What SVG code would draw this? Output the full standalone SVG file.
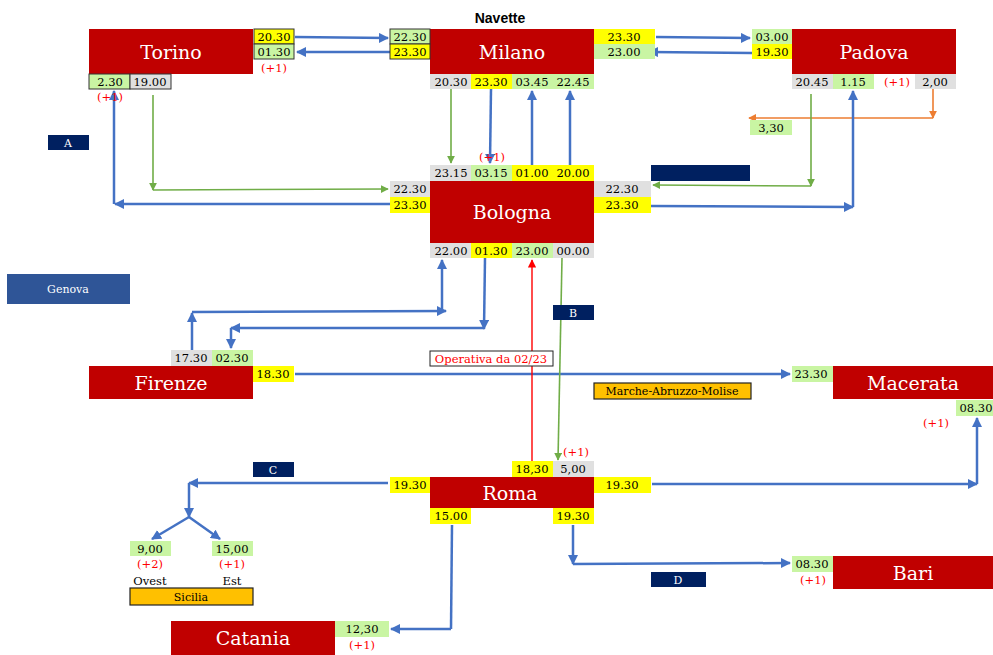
<svg xmlns="http://www.w3.org/2000/svg" width="993" height="655" viewBox="0 0 993 655">
  <defs>
    <marker id="ab" viewBox="0 0 10 10" refX="9" refY="5" markerWidth="4" markerHeight="4" orient="auto-start-reverse" markerUnits="strokeWidth">
      <path d="M0,0 L10,5 L0,10 z" fill="#4472C4"/>
    </marker>
    <marker id="ag" viewBox="0 0 10 10" refX="9" refY="5" markerWidth="5" markerHeight="5" orient="auto" markerUnits="strokeWidth">
      <path d="M0,0 L10,5 L0,10 z" fill="#70AD47"/>
    </marker>
    <marker id="ao" viewBox="0 0 10 10" refX="9" refY="5" markerWidth="5" markerHeight="5" orient="auto" markerUnits="strokeWidth">
      <path d="M0,0 L10,5 L0,10 z" fill="#ED7D31"/>
    </marker>
    <marker id="ar" viewBox="0 0 10 10" refX="9" refY="5" markerWidth="6" markerHeight="6" orient="auto" markerUnits="strokeWidth">
      <path d="M0,0 L10,5 L0,10 z" fill="#FF0000"/>
    </marker>
  </defs>
  <style>
    .st { fill: #C00000; }
    .name { font-family: "DejaVu Serif", "Liberation Serif", serif; font-size: 19px; fill: #ffffff; text-anchor: middle; }
    .t { font-family: "DejaVu Serif", "Liberation Serif", serif; font-size: 11.5px; fill: #000000; text-anchor: middle; }
    .p { font-family: "DejaVu Serif", "Liberation Serif", serif; font-size: 11.5px; fill: #FF0000; text-anchor: middle; }
    .y { fill: #FFFF00; }
    .g { fill: #C9F5A3; }
    .k { fill: #E0E0E0; }
    .bd { stroke: #333333; stroke-width: 1; }
    .nv { fill: #002060; }
    .nl { font-family: "DejaVu Serif", "Liberation Serif", serif; font-size: 11px; fill: #ffffff; text-anchor: middle; }
    .or { fill: #FFC000; stroke: #222222; stroke-width: 1.2; }
    .ol { font-family: "DejaVu Serif", "Liberation Serif", serif; font-size: 11px; fill: #000000; text-anchor: middle; }
    .bl { fill: none; stroke: #4472C4; stroke-width: 2.5; }
    .gl { fill: none; stroke: #70AD47; stroke-width: 1.6; }
    .orl { fill: none; stroke: #ED7D31; stroke-width: 1.6; }
    .rl { fill: none; stroke: #FF0000; stroke-width: 1.4; }
  </style>
  <rect width="993" height="655" fill="#ffffff"/>

  <text x="500" y="23" font-family="Liberation Sans, Arial, sans-serif" font-size="14" font-weight="bold" text-anchor="middle">Navette</text>

  <!-- connectors -->
  <g id="connectors">
    <!-- Torino <-> Milano -->
    <line class="bl" x1="295" y1="37" x2="388" y2="38" marker-end="url(#ab)"/>
    <line class="bl" x1="430" y1="52" x2="297" y2="52" marker-end="url(#ab)"/>
    <!-- Milano <-> Padova -->
    <line class="bl" x1="656" y1="37" x2="750" y2="38" marker-end="url(#ab)"/>
    <line class="bl" x1="752" y1="53" x2="649" y2="52" marker-end="url(#ab)"/>
    <!-- Padova 2.00 -> 3,30 -->
    <polyline class="orl" points="933,89 933,118" marker-end="url(#ao)"/>
    <line class="orl" x1="933" y1="118" x2="749" y2="118" marker-end="url(#ao)"/>
    <!-- Padova 20.45 -> Bologna -->
    <line class="gl" x1="811" y1="94" x2="811" y2="186" marker-end="url(#ag)"/>
    <line class="gl" x1="811" y1="186" x2="653" y2="185" marker-end="url(#ag)"/>
    <!-- Bologna -> Padova 1.15 -->
    <line class="bl" x1="651" y1="206" x2="853" y2="207" marker-end="url(#ab)"/>
    <line class="bl" x1="853" y1="207" x2="853" y2="91" marker-end="url(#ab)"/>
    <!-- Milano <-> Bologna -->
    <line class="gl" x1="451" y1="89" x2="451" y2="163" marker-end="url(#ag)"/>
    <line class="bl" x1="491" y1="89" x2="490" y2="163" marker-end="url(#ab)"/>
    <line class="bl" x1="532" y1="165" x2="532" y2="91" marker-end="url(#ab)"/>
    <line class="bl" x1="570" y1="165" x2="570" y2="91" marker-end="url(#ab)"/>
    <!-- Torino 19.00 -> Bologna -->
    <line class="gl" x1="153" y1="95" x2="153" y2="190" marker-end="url(#ag)"/>
    <line class="gl" x1="153" y1="190" x2="388" y2="189" marker-end="url(#ag)"/>
    <!-- Bologna -> Torino 2.30 -->
    <line class="bl" x1="390" y1="204" x2="115" y2="204" marker-end="url(#ab)"/>
    <line class="bl" x1="114" y1="204" x2="114" y2="91" marker-end="url(#ab)"/>
    <!-- Firenze 17.30 -> Bologna 22.00 -->
    <line class="bl" x1="192" y1="350" x2="192" y2="313" marker-end="url(#ab)"/>
    <line class="bl" x1="192" y1="312" x2="446" y2="311" marker-end="url(#ab)"/>
    <line class="bl" x1="442" y1="312" x2="442" y2="260" marker-end="url(#ab)"/>
    <!-- Bologna 01.30 -> Firenze 02.30 -->
    <line class="bl" x1="485" y1="258" x2="484" y2="329" marker-end="url(#ab)"/>
    <line class="bl" x1="484" y1="328" x2="231" y2="328" marker-end="url(#ab)"/>
    <line class="bl" x1="231" y1="328" x2="231" y2="348" marker-end="url(#ab)"/>
    <!-- Firenze -> Macerata -->
    <line class="bl" x1="295" y1="374" x2="790" y2="374" marker-end="url(#ab)"/>
    <!-- Roma <-> Bologna -->
    <line class="rl" x1="532" y1="461" x2="532" y2="260" marker-end="url(#ar)"/>
    <line class="gl" x1="562" y1="258" x2="558" y2="460" marker-end="url(#ag)"/>
    <!-- Roma -> Macerata -->
    <line class="bl" x1="652" y1="484" x2="977" y2="484" marker-end="url(#ab)"/>
    <line class="bl" x1="977" y1="484" x2="977" y2="418" marker-end="url(#ab)"/>
    <!-- Roma -> Sicilia -->
    <line class="bl" x1="388" y1="483" x2="189" y2="483" marker-end="url(#ab)"/>
    <line class="bl" x1="189" y1="483" x2="189" y2="517" marker-end="url(#ab)"/>
    <line class="bl" x1="189" y1="517" x2="152" y2="539" marker-end="url(#ab)"/>
    <line class="bl" x1="189" y1="517" x2="220" y2="539" marker-end="url(#ab)"/>
    <!-- Roma -> Catania -->
    <polyline class="bl" points="452,525 451,629"/>
    <line class="bl" x1="451" y1="629" x2="391" y2="629" marker-end="url(#ab)"/>
    <!-- Roma -> Bari -->
    <line class="bl" x1="573" y1="525" x2="573" y2="564" marker-end="url(#ab)"/>
    <line class="bl" x1="573" y1="564" x2="790" y2="563" marker-end="url(#ab)"/>
  </g>

  <!-- Torino -->
  <g id="torino">
    <rect class="st" x="89" y="29" width="164" height="45"/>
    <text class="name" x="171" y="59">Torino</text>
    <rect class="y bd" x="254" y="29" width="40" height="15"/>
    <text class="t" x="274" y="41">20.30</text>
    <rect class="g bd" x="254" y="44" width="40" height="15"/>
    <text class="t" x="274" y="56">01.30</text>
    <text class="p" x="274" y="72">(+1)</text>
    <rect class="g bd" x="89" y="74" width="41" height="15"/>
    <text class="t" x="110" y="86">2.30</text>
    <rect class="k bd" x="130" y="74" width="41" height="15"/>
    <text class="t" x="150" y="86">19.00</text>
    <text class="p" x="110" y="101">(+1)</text>
  </g>

  <!-- Milano -->
  <g id="milano">
    <rect class="st" x="430" y="29" width="164" height="45"/>
    <text class="name" x="512" y="59">Milano</text>
    <rect class="g bd" x="390" y="29" width="40" height="15"/>
    <text class="t" x="410" y="41">22.30</text>
    <rect class="y bd" x="390" y="44" width="40" height="15"/>
    <text class="t" x="410" y="56">23.30</text>
    <rect class="y" x="594" y="29" width="61" height="15"/>
    <text class="t" x="624" y="41">23.30</text>
    <rect class="g" x="594" y="44" width="61" height="15"/>
    <text class="t" x="624" y="56">23.00</text>
    <rect class="k" x="430" y="74" width="41" height="15"/>
    <text class="t" x="451" y="86">20.30</text>
    <rect class="y" x="471" y="74" width="41" height="15"/>
    <text class="t" x="491" y="86">23.30</text>
    <rect class="g" x="512" y="74" width="82" height="15"/>
    <text class="t" x="532" y="86">03.45</text>
    <text class="t" x="573" y="86">22.45</text>
  </g>

  <!-- Padova -->
  <g id="padova">
    <rect class="st" x="792" y="29" width="164" height="45"/>
    <text class="name" x="874" y="59">Padova</text>
    <rect class="g" x="752" y="29" width="40" height="15"/>
    <text class="t" x="772" y="41">03.00</text>
    <rect class="y" x="752" y="44" width="40" height="15"/>
    <text class="t" x="772" y="56">19.30</text>
    <rect class="k" x="792" y="74" width="41" height="15"/>
    <text class="t" x="812" y="86">20.45</text>
    <rect class="g" x="833" y="74" width="41" height="15"/>
    <text class="t" x="853" y="86">1.15</text>
    <text class="p" x="897" y="86">(+1)</text>
    <rect class="k" x="915" y="74" width="41" height="15"/>
    <text class="t" x="935" y="86">2,00</text>
    <rect class="g" x="750" y="120" width="42" height="15"/>
    <text class="t" x="771" y="132">3,30</text>
  </g>

  <!-- Bologna -->
  <g id="bologna">
    <rect class="st" x="430" y="181" width="164" height="62"/>
    <text class="name" x="512" y="219">Bologna</text>
    <text class="p" x="492" y="161">(+1)</text>
    <rect class="k" x="430" y="165" width="41" height="16"/>
    <text class="t" x="451" y="177">23.15</text>
    <rect class="g" x="471" y="165" width="41" height="16"/>
    <text class="t" x="491" y="177">03.15</text>
    <rect class="y" x="512" y="165" width="82" height="16"/>
    <text class="t" x="532" y="177">01.00</text>
    <text class="t" x="573" y="177">20.00</text>
    <rect class="k" x="390" y="181" width="40" height="16"/>
    <text class="t" x="410" y="193">22.30</text>
    <rect class="y" x="390" y="197" width="40" height="16"/>
    <text class="t" x="410" y="209">23.30</text>
    <rect class="k" x="594" y="181" width="57" height="16"/>
    <text class="t" x="622" y="193">22.30</text>
    <rect class="y" x="594" y="197" width="57" height="16"/>
    <text class="t" x="622" y="209">23.30</text>
    <rect class="k" x="430" y="243" width="41" height="15"/>
    <text class="t" x="451" y="255">22.00</text>
    <rect class="y" x="471" y="243" width="41" height="15"/>
    <text class="t" x="491" y="255">01.30</text>
    <rect class="g" x="512" y="243" width="41" height="15"/>
    <text class="t" x="532" y="255">23.00</text>
    <rect class="k" x="553" y="243" width="41" height="15"/>
    <text class="t" x="573" y="255">00.00</text>
  </g>

  <!-- line labels -->
  <g id="labels">
    <rect class="nv" x="48" y="135" width="41" height="15"/>
    <text class="nl" x="68" y="147">A</text>
    <rect class="nv" x="651" y="165" width="99" height="16"/>
    <rect class="nv" x="553" y="305" width="41" height="15"/>
    <text class="nl" x="573" y="317">B</text>
    <rect class="nv" x="253" y="462" width="41" height="15"/>
    <text class="nl" x="273" y="474">C</text>
    <rect class="nv" x="651" y="572" width="55" height="15"/>
    <text class="nl" x="678" y="584">D</text>
  </g>

  <!-- Genova -->
  <g id="genova">
    <rect x="7" y="274" width="123" height="30" fill="#2F5597"/>
    <text class="nl" x="68" y="293">Genova</text>
  </g>

  <!-- Firenze -->
  <g id="firenze">
    <rect class="st" x="89" y="366" width="164" height="33"/>
    <text class="name" x="171" y="390">Firenze</text>
    <rect class="k" x="171" y="350" width="41" height="16"/>
    <text class="t" x="191" y="362">17.30</text>
    <rect class="g" x="212" y="350" width="41" height="16"/>
    <text class="t" x="232" y="362">02.30</text>
    <rect class="y" x="253" y="366" width="41" height="16"/>
    <text class="t" x="273" y="378">18.30</text>
  </g>

  <g id="operativa">
    <rect x="430" y="351" width="123" height="15" fill="#ffffff" stroke="#222222" stroke-width="1"/>
    <text class="p" x="491" y="363" font-size="11">Operativa da 02/23</text>
  </g>

  <!-- Macerata -->
  <g id="macerata">
    <rect class="st" x="833" y="366" width="160" height="33"/>
    <text class="name" x="913" y="390">Macerata</text>
    <rect class="g" x="792" y="366" width="41" height="16"/>
    <text class="t" x="811" y="378">23.30</text>
    <rect class="g" x="956" y="400" width="37" height="16"/>
    <text class="t" x="976" y="412">08.30</text>
    <text class="p" x="936" y="427">(+1)</text>
    <rect class="or" x="594" y="383" width="157" height="16"/>
    <text class="ol" x="672" y="395">Marche-Abruzzo-Molise</text>
  </g>

  <!-- Roma -->
  <g id="roma">
    <rect class="st" x="430" y="477" width="164" height="31"/>
    <text class="name" x="510" y="500">Roma</text>
    <text class="p" x="576" y="456">(+1)</text>
    <rect class="y" x="512" y="461" width="41" height="16"/>
    <text class="t" x="532" y="473">18,30</text>
    <rect class="k" x="553" y="461" width="41" height="16"/>
    <text class="t" x="573" y="473">5,00</text>
    <rect class="y" x="390" y="477" width="40" height="16"/>
    <text class="t" x="410" y="489">19.30</text>
    <rect class="y" x="594" y="477" width="57" height="16"/>
    <text class="t" x="622" y="489">19.30</text>
    <rect class="y" x="430" y="508" width="41" height="16"/>
    <text class="t" x="451" y="520">15.00</text>
    <rect class="y" x="553" y="508" width="41" height="16"/>
    <text class="t" x="573" y="520">19.30</text>
  </g>

  <!-- Sicilia -->
  <g id="sicilia">
    <rect class="g" x="130" y="541" width="41" height="15"/>
    <text class="t" x="150" y="553">9,00</text>
    <text class="p" x="150" y="568">(+2)</text>
    <text class="t" x="150" y="585">Ovest</text>
    <rect class="g" x="212" y="541" width="41" height="15"/>
    <text class="t" x="232" y="553">15,00</text>
    <text class="p" x="232" y="568">(+1)</text>
    <text class="t" x="232" y="585">Est</text>
    <rect class="or" x="130" y="588" width="123" height="17"/>
    <text class="ol" x="191" y="601">Sicilia</text>
  </g>

  <!-- Catania -->
  <g id="catania">
    <rect class="st" x="171" y="621" width="164" height="34"/>
    <text class="name" x="253" y="645">Catania</text>
    <rect class="g" x="335" y="621" width="54" height="16"/>
    <text class="t" x="362" y="633">12,30</text>
    <text class="p" x="362" y="649">(+1)</text>
  </g>

  <!-- Bari -->
  <g id="bari">
    <rect class="st" x="833" y="556" width="160" height="33"/>
    <text class="name" x="913" y="580">Bari</text>
    <rect class="g" x="792" y="556" width="41" height="16"/>
    <text class="t" x="812" y="568">08.30</text>
    <text class="p" x="813" y="584">(+1)</text>
  </g>
</svg>
